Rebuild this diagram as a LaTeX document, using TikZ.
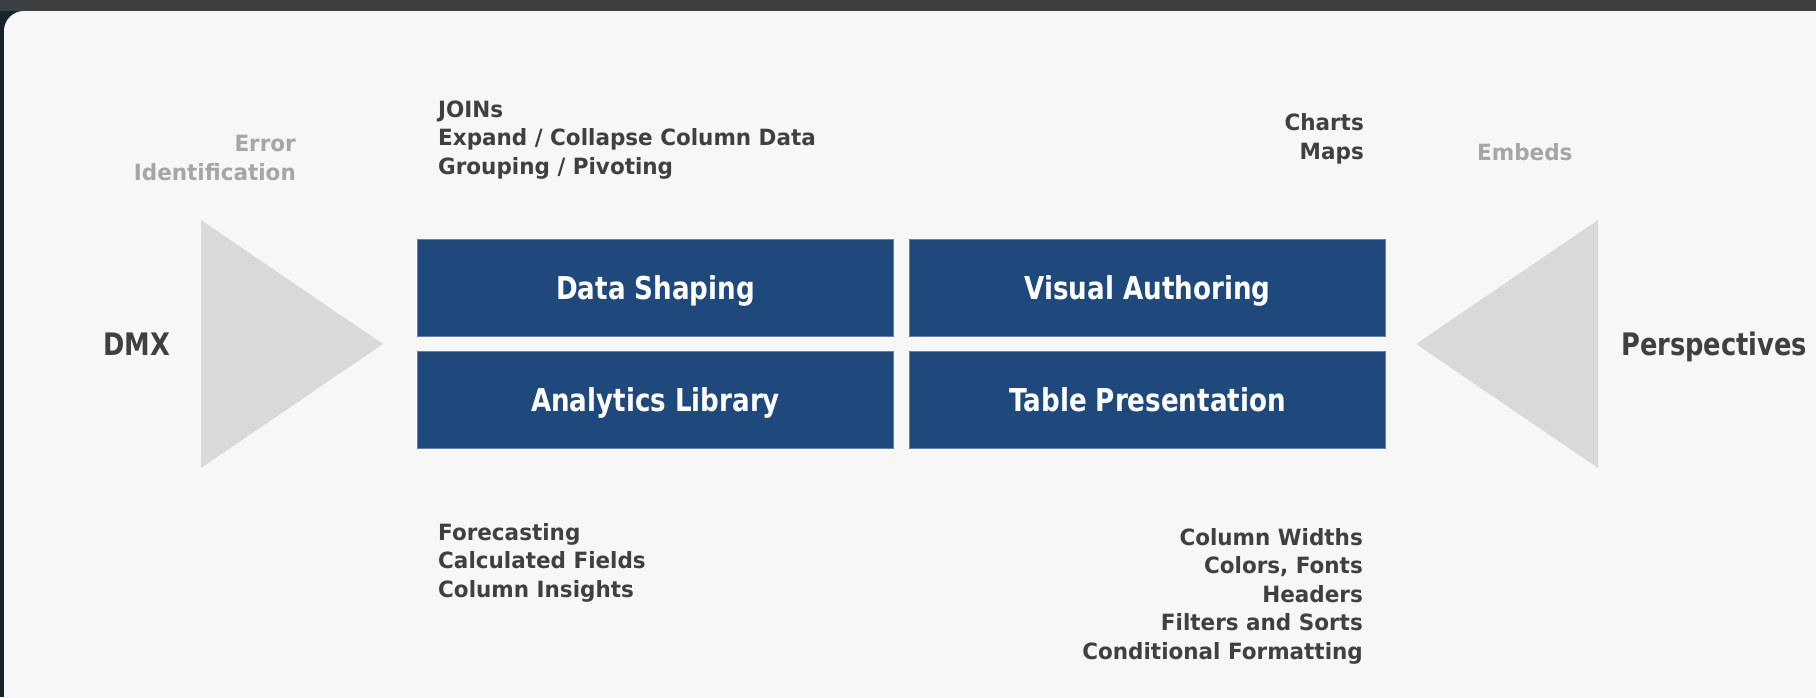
\documentclass[tikz,border=0pt]{standalone}
\usepackage{fontspec}
\setmainfont{DejaVu Sans}
\newfontfamily\notefont[FakeStretch=0.96]{DejaVu Sans}
\newfontfamily\boxfont[FakeStretch=0.83]{DejaVu Sans}
\usetikzlibrary{positioning}
\definecolor{blockblue}{HTML}{1F497D}
\definecolor{blockline}{HTML}{5F82B0}
\definecolor{notegray}{HTML}{404040}
\definecolor{faintgray}{HTML}{A6A6A6}
\definecolor{wedgegray}{HTML}{D9D9D9}
\definecolor{panelbg}{HTML}{F7F7F7}
\definecolor{framedark}{HTML}{3C4042}
\definecolor{framenavy}{HTML}{18232C}

\begin{document}
\begin{tikzpicture}[x=1pt,y=-1pt,
			block/.style={draw=blockline, line width=1pt, fill=blockblue, text=white,
				minimum width=476pt, minimum height=97pt, inner sep=0pt,
				text height=26pt, text depth=4pt,
				font=\boxfont\bfseries\fontsize{31.5}{36}\selectfont},
			side/.style={text=notegray, inner sep=0pt,
				font=\boxfont\bfseries\fontsize{31}{36}\selectfont},
			note/.style={text=notegray, inner sep=0pt,
				font=\notefont\bfseries\fontsize{22.4}{28.5}\selectfont},
			faint/.style={note, text=faintgray},
			wedge/.style={fill=wedgegray}]
			% frame and slide
			\useasboundingbox (0,0) rectangle (1816,697);
			\fill[framenavy] (0,0) rectangle (1816,697);
			\fill[framedark] (0,0) rectangle (1816,11);
			\begin{scope}
				\clip (0,0) rectangle (1816,697);
				\fill[panelbg, rounded corners=20pt] (4,11) rectangle (1900,780);
			\end{scope}
			% input and output wedges
			\fill[wedge] (201,220) -- (201,468) -- (383,344) -- cycle;
			\fill[wedge] (1598,220) -- (1598,468) -- (1416,344) -- cycle;
			% the four blocks
			\node[block] (shaping) at (655.5,288) {Data Shaping};
			\node[block, right=15pt of shaping] (visual) {Visual Authoring};
			\node[block, below=14pt of shaping] (analytics) {Analytics Library};
			\node[block, right=15pt of analytics] (table) {Table Presentation};
			% ends
			\node[side, anchor=base west] (dmx) at (103,355) {DMX};
			\node[side, anchor=base west] (persp) at (1621,355) {Perspectives};
			% notes (base = last line)
			\node[faint, align=right, anchor=base east] (errors) at (296,180) {Error\\Identification};
			\node[faint, anchor=base west] (embeds) at (1477,160) {Embeds};
			\node[note, align=left, anchor=base west] (joins) at (438,174)
				{JOINs\\Expand / Collapse Column Data\\Grouping / Pivoting};
			\node[note, align=right, anchor=base east] (charts) at (1364,159) {Charts\\Maps};
			\node[note, align=left, anchor=base west] (forecast) at (438,597)
				{Forecasting\\Calculated Fields\\Column Insights};
			\node[note, align=right, anchor=base east] (widths) at (1363,659)
				{Column Widths\\Colors, Fonts\\Headers\\Filters and Sorts\\Conditional Formatting};
		\end{tikzpicture}
\end{document}
